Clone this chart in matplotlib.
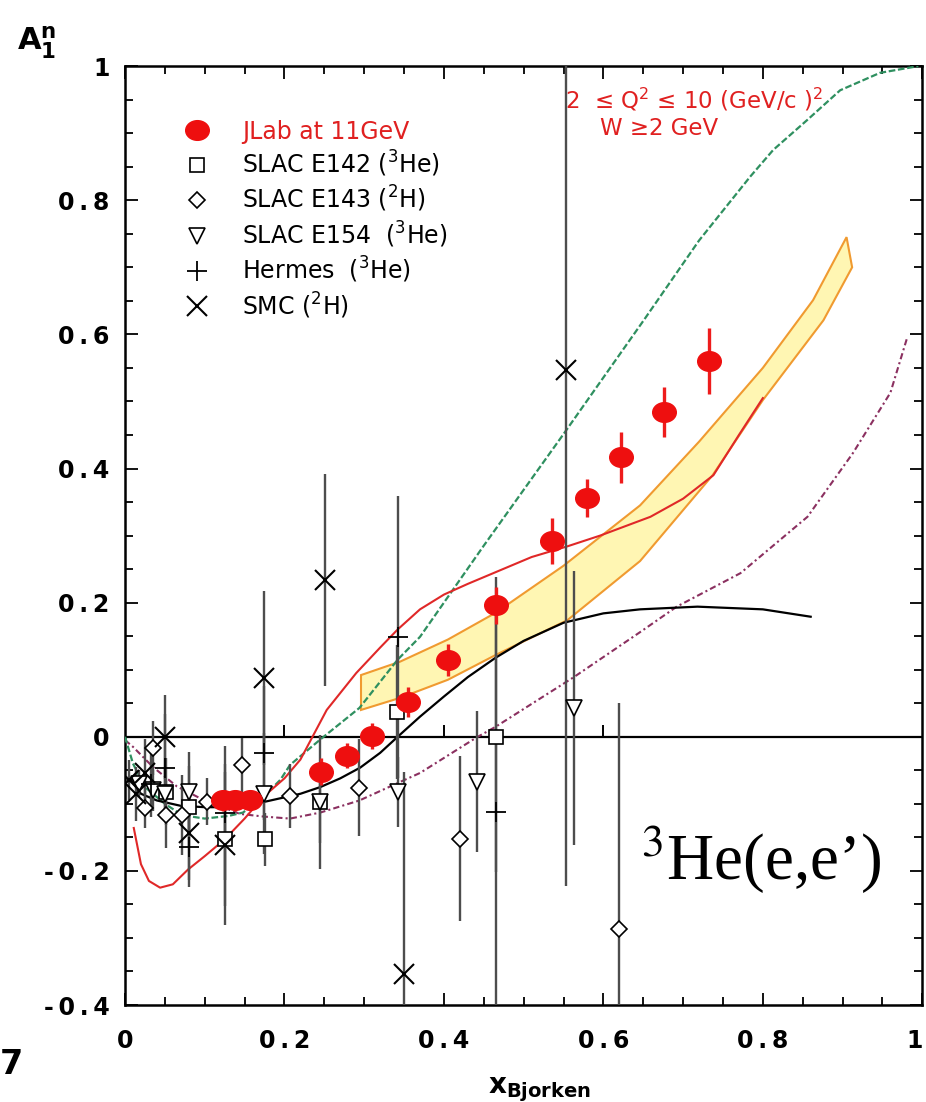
import numpy as np
import matplotlib
matplotlib.use('agg')
import matplotlib.pyplot as plt
from matplotlib.path import Path
from matplotlib.ticker import FixedLocator, MultipleLocator

plt.rcParams['font.family'] = ['DejaVu Sans']
plt.rcParams['mathtext.fontset'] = 'dejavusans'

# ---- data ----
jlab_x = [0.123, 0.138, 0.157, 0.246, 0.278, 0.310, 0.355, 0.405, 0.465, 0.535, 0.580, 0.622, 0.676, 0.733]
jlab_y = [-0.095, -0.095, -0.094, -0.052, -0.028, 0.001, 0.052, 0.115, 0.196, 0.292, 0.356, 0.417, 0.484, 0.560]
jlab_err = [0.015, 0.015, 0.015, 0.020, 0.018, 0.019, 0.022, 0.024, 0.028, 0.034, 0.028, 0.038, 0.037, 0.049]

e142_x = [0.052, 0.080, 0.125, 0.175, 0.245, 0.341, 0.465]
e142_y = [-0.082, -0.104, -0.152, -0.153, -0.098, 0.037, -0.001]
e142_err = [0.05, 0.06, 0.10, 0.04, 0.06, 0.10, 0.20]

e143_x = [0.025, 0.035, 0.051, 0.072, 0.103, 0.147, 0.207, 0.294, 0.420, 0.620]
e143_y = [-0.106, -0.017, -0.116, -0.117, -0.097, -0.042, -0.088, -0.076, -0.152, -0.286]
e143_err = [0.03, 0.04, 0.05, 0.06, 0.035, 0.04, 0.048, 0.072, 0.123, 0.337]

e154_x = [0.017, 0.035, 0.050, 0.080, 0.174, 0.245, 0.342, 0.441, 0.563]
e154_y = [-0.070, -0.080, -0.085, -0.083, -0.085, -0.097, -0.082, -0.067, 0.043]
e154_err = [0.02, 0.03, 0.04, 0.06, 0.09, 0.10, 0.052, 0.105, 0.204]

hermes_x = [0.033, 0.050, 0.080, 0.125, 0.174, 0.342, 0.465]
hermes_y = [-0.070, -0.046, -0.164, -0.114, -0.024, 0.149, -0.112]
hermes_err = [0.05, 0.08, 0.06, 0.10, 0.10, 0.21, 0.35]

smc_x = [0.005, 0.014, 0.025, 0.050, 0.080, 0.125, 0.174, 0.251, 0.350, 0.553]
smc_y = [-0.064, -0.085, -0.054, 0.000, -0.143, -0.161, 0.088, 0.234, -0.353, 0.547]
smc_err = [0.03, 0.04, 0.05, 0.063, 0.07, 0.12, 0.13, 0.158, 0.30, 0.77]

# model curves
black_x = [0.005, 0.02, 0.04, 0.07, 0.10, 0.13, 0.16, 0.19, 0.22, 0.245, 0.27, 0.295, 0.32, 0.342, 0.37, 0.40, 0.43,
           0.465, 0.50, 0.55, 0.60, 0.646, 0.718, 0.80, 0.86]
black_y = [-0.060, -0.085, -0.095, -0.103, -0.105, -0.105, -0.101, -0.093, -0.085, -0.075, -0.062, -0.046, -0.024, 0.000, 0.030, 0.060, 0.089,
           0.118, 0.143, 0.170, 0.184, 0.190, 0.194, 0.190, 0.179]

green_x = [0.0, 0.01, 0.025, 0.05, 0.072, 0.10, 0.13, 0.148, 0.174, 0.195, 0.207, 0.245, 0.294, 0.342, 0.37, 0.45,
           0.551, 0.65, 0.72, 0.784, 0.813, 0.856, 0.897, 0.947, 0.995]
green_y = [0.0, -0.04, -0.075, -0.10, -0.117, -0.122, -0.118, -0.113, -0.089, -0.064, -0.042, -0.004, 0.043, 0.115, 0.149, 0.285,
           0.453, 0.62, 0.74, 0.835, 0.875, 0.92, 0.964, 0.99, 1.0]

red_x = [0.011, 0.02, 0.03, 0.044, 0.06, 0.079, 0.10, 0.125, 0.15, 0.174, 0.20, 0.22, 0.253, 0.29, 0.32, 0.342, 0.37, 0.40, 0.43, 0.47,
         0.51, 0.555, 0.596, 0.659, 0.70, 0.738, 0.77, 0.80]
red_y = [-0.136, -0.19, -0.215, -0.225, -0.22, -0.198, -0.178, -0.153, -0.122, -0.089, -0.062, -0.034, 0.040, 0.095, 0.133, 0.160, 0.190, 0.212, 0.228, 0.248,
         0.268, 0.284, 0.300, 0.328, 0.355, 0.390, 0.450, 0.505]

maroon_x = [0.0, 0.01, 0.035, 0.065, 0.103, 0.125, 0.144, 0.174, 0.207, 0.245, 0.294, 0.342, 0.37, 0.441, 0.465, 0.563,
            0.646, 0.692, 0.772, 0.856, 0.913, 0.96, 0.981]
maroon_y = [-0.005, -0.015, -0.045, -0.074, -0.097, -0.106, -0.115, -0.119, -0.122, -0.113, -0.095, -0.069, -0.054, -0.001, 0.015, 0.089,
            0.156, 0.194, 0.244, 0.328, 0.423, 0.513, 0.595]

band_x = [0.296, 0.345, 0.405, 0.465, 0.55, 0.646, 0.72, 0.80, 0.863, 0.905]
band_hi = [0.092, 0.112, 0.145, 0.185, 0.255, 0.345, 0.44, 0.55, 0.651, 0.745]
band_lo_x = [0.296, 0.345, 0.405, 0.465, 0.555, 0.646, 0.737, 0.80, 0.876, 0.912]
band_lo = [0.040, 0.058, 0.085, 0.122, 0.174, 0.262, 0.390, 0.502, 0.621, 0.700]

zero_ticks = [0.2, 0.4, 0.6]
y_ticks = [-0.4, -0.2, 0.0, 0.2, 0.4, 0.6, 0.8, 1.0]
y_tick_labels = ['-0.4', '-0.2', '0', '0.2', '0.4', '0.6', '0.8', '1']
x_ticks = [0.0, 0.2, 0.4, 0.6, 0.8, 1.0]
x_tick_labels = ['0', '0.2', '0.4', '0.6', '0.8', '1']


def spaced(s):
    return '\u2009'.join(s)


# ---- figure ----
fig = plt.figure(figsize=(9.26, 11.02), dpi=100)
ax = fig.add_axes([0.135, 0.088, 0.861, 0.852])
ax.set_xlim(0, 1)
ax.set_ylim(-0.4, 1.0)

# band
poly_x = band_x + band_lo_x[::-1]
poly_y = band_hi + band_lo[::-1]
ax.fill(poly_x, poly_y, facecolor='#fff6b3', edgecolor='#f09a30', lw=1.5, zorder=1)

ax.axhline(0, color='black', lw=1.6, zorder=2)
ax.vlines(zero_ticks, 0, 0.018, color='black', lw=1.4, zorder=2)

ax.plot(maroon_x, maroon_y, color='#8b3060', lw=1.5, ls=(0, (3, 1.5, 1, 1.5)), zorder=3)
ax.plot(green_x, green_y, color='#2f9060', lw=1.6, ls=(0, (3, 1.2)), zorder=3)
ax.plot(black_x, black_y, color='black', lw=1.6, zorder=3)
ax.plot(red_x, red_y, color='#e02828', lw=1.5, zorder=3)

# black error bars
bar_col = '#4d4d4d'
for xs, ys, es in [(e142_x, e142_y, e142_err), (e143_x, e143_y, e143_err), (e154_x, e154_y, e154_err),
                   (hermes_x, hermes_y, hermes_err), (smc_x, smc_y, smc_err)]:
    ax.errorbar(xs, ys, yerr=es, fmt='none', ecolor=bar_col, elinewidth=1.7, capsize=0, zorder=4)

ms_open = dict(ls='none', mfc='white', mec='black', mew=1.2, zorder=5)
ax.plot(e142_x, e142_y, marker='s', ms=10, label='SLAC E142 ($^3$He)', **ms_open)
ax.plot(e143_x, e143_y, marker='D', ms=8.5, label='SLAC E143 ($^2$H)', **ms_open)
ax.plot(e154_x, e154_y, marker='v', ms=11, label='SLAC E154  ($^3$He)', **ms_open)
ax.plot(hermes_x, hermes_y, marker='+', ms=14, ls='none', color='black', mew=1.3, zorder=5, label='Hermes  ($^3$He)')
ax.plot(smc_x, smc_y, marker='x', ms=14, ls='none', color='black', mew=1.5, zorder=5, label='SMC ($^2$H)')

# JLab points
circ = Path.unit_circle()
ellipse = Path(circ.vertices * np.array([1.2, 1.0]), circ.codes)
ax.errorbar(jlab_x, jlab_y, yerr=jlab_err, fmt='none', ecolor='#ee1c1c', elinewidth=2.4, capsize=0, zorder=6)
ax.plot(jlab_x, jlab_y, ls='none', marker=ellipse, ms=17, color='#ee0f0f', zorder=7, label='JLab at 11GeV')

# legend
h, l = ax.get_legend_handles_labels()
order = [5, 0, 1, 2, 3, 4]
leg = ax.legend([h[i] for i in order], [l[i] for i in order], loc='upper left',
                bbox_to_anchor=(0.0755, 0.943), frameon=False, fontsize=17,
                handlelength=1.0, handletextpad=1.4, borderpad=0, borderaxespad=0,
                labelspacing=0.22)
leg.get_texts()[0].set_color('#e02020')

# annotation texts
ax.text(0.552, 0.964, '2  \u2264 Q$^2$ \u2264 10 (GeV/c )$^2$', transform=ax.transAxes,
        color='#e02020', fontsize=16.5, ha='left', va='center')
ax.text(0.596, 0.934, 'W \u22652 GeV', transform=ax.transAxes,
        color='#e02020', fontsize=16.5, ha='left', va='center')
ax.text(0.646, 0.133, '$^3$He(e,e\u2019)', transform=ax.transAxes, fontsize=47,
        family='Liberation Serif', math_fontfamily='stix', ha='left', va='baseline')

# axes styling
for sp in ax.spines.values():
    sp.set_linewidth(1.8)
ax.xaxis.set_major_locator(FixedLocator(x_ticks))
ax.yaxis.set_major_locator(FixedLocator(y_ticks))
ax.xaxis.set_minor_locator(MultipleLocator(0.05))
ax.yaxis.set_minor_locator(MultipleLocator(0.05))
ax.set_xticklabels([spaced(s) for s in x_tick_labels], fontsize=17, fontweight='bold')
ax.set_yticklabels([spaced(s) for s in y_tick_labels], fontsize=17, fontweight='bold')
ax.get_xticklabels()[-1].set_horizontalalignment('right')
ax.tick_params(which='both', direction='in', top=True, right=True, width=1.3)
ax.tick_params(which='major', length=9)
ax.tick_params(which='minor', length=6)
ax.tick_params(axis='y', which='major', pad=11)
ax.tick_params(axis='x', which='major', pad=17)

ax.set_xlabel(r'$\mathbf{x}_{\mathbf{Bjorken}}$', fontsize=20)
ax.xaxis.set_label_coords(0.52, -0.075)

fig.text(0.018, 0.961, r'$\mathbf{A}_{\mathbf{1}}^{\mathbf{n}}$', fontsize=22, ha='left', va='center')
fig.text(0.0, 1 - 1065 / 1102, '7', fontsize=24, fontweight='bold', ha='left', va='center')

fig.savefig('out.png', dpi=100)
